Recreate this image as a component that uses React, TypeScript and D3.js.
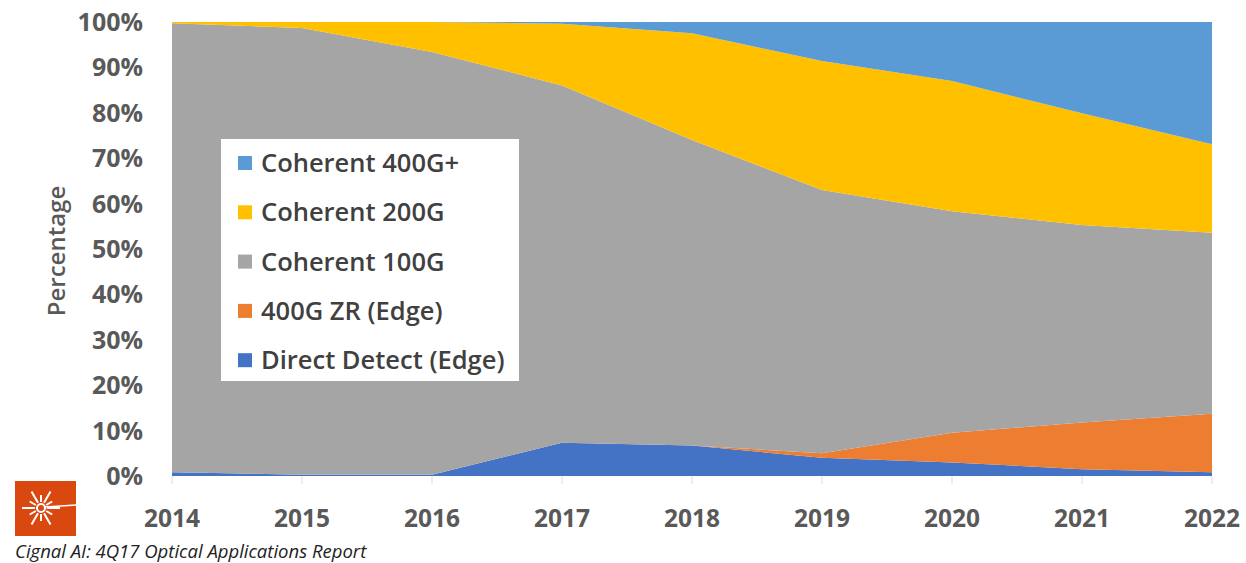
import React, { useEffect, useRef } from 'react';
import * as d3 from 'd3';

// shares in percent
const years = [2014, 2015, 2016, 2017, 2018, 2019, 2020, 2021, 2022];
const directDetect = [0.8, 0.3, 0.3, 7.3, 6.7, 4.0, 3.0, 1.5, 0.8];
const zr400 = [0, 0, 0, 0, 0, 1.0, 6.5, 10.3, 12.9];
const coherent100 = [98.9, 98.4, 93.1, 78.7, 67.3, 58.0, 48.8, 43.5, 39.9];
const coherent200 = [0.3, 1.3, 6.6, 13.6, 23.5, 28.4, 28.7, 24.6, 19.5];
const coherent400 = [0, 0, 0, 0.4, 2.5, 8.6, 13.0, 20.1, 26.9];

const seriesNames = ['Direct Detect (Edge)', '400G ZR (Edge)', 'Coherent 100G', 'Coherent 200G', 'Coherent 400G+'];
const seriesColors = ['#4472C4', '#ED7D31', '#A5A5A5', '#FFC000', '#5B9BD5'];
const yTicks = [0, 10, 20, 30, 40, 50, 60, 70, 80, 90, 100];

const W = 1246, H = 563;
const FONT = '"Open Sans", Lato, sans-serif';

export default function App() {
  const ref = useRef<SVGSVGElement>(null);

  useEffect(() => {
    const svg = d3.select(ref.current);
    svg.selectAll('*').remove();

    const rows = years.map((y, i) => ({
      year: y,
      s0: directDetect[i], s1: zr400[i], s2: coherent100[i], s3: coherent200[i], s4: coherent400[i],
    }));
    const keys = ['s0', 's1', 's2', 's3', 's4'];
    const stacked = d3.stack<any>().keys(keys)(rows);

    const x = d3.scaleLinear().domain([2014, 2022]).range([172, 1212]);
    const y = d3.scaleLinear().domain([0, 100]).range([476, 22]);

    const area = d3.area<any>()
      .x((d) => x(d.data.year))
      .y0((d) => y(d[0]))
      .y1((d) => y(d[1]));

    svg.append('g').selectAll('path')
      .data(stacked)
      .join('path')
      .attr('d', area)
      .attr('fill', (d, i) => seriesColors[i]);

    // x ticks
    const xAxis = svg.append('g');
    xAxis.selectAll('line').data(years).join('line')
      .attr('x1', (d) => x(d)).attr('x2', (d) => x(d))
      .attr('y1', 476).attr('y2', 484)
      .attr('stroke', '#d9d9d9').attr('stroke-width', 1);
    xAxis.selectAll('text').data(years).join('text')
      .attr('x', (d) => x(d)).attr('y', 527)
      .attr('text-anchor', 'middle')
      .attr('font-family', FONT).attr('font-size', 24.5).attr('font-weight', 700)
      .attr('fill', '#595959')
      .text((d) => d);

    // y tick labels
    svg.append('g').selectAll('text').data(yTicks).join('text')
      .attr('x', 143).attr('y', (d) => y(d) + 9)
      .attr('text-anchor', 'end')
      .attr('font-family', FONT).attr('font-size', 25).attr('font-weight', 700)
      .attr('fill', '#595959')
      .text((d) => d + '%');

    svg.append('text')
      .attr('transform', 'translate(65,251) rotate(-90)')
      .attr('text-anchor', 'middle')
      .attr('font-family', FONT).attr('font-size', 24).attr('font-weight', 600)
      .attr('fill', '#595959')
      .text('Percentage');

    // legend
    const lg = svg.append('g');
    lg.append('rect').attr('x', 221).attr('y', 139).attr('width', 298).attr('height', 242).attr('fill', '#fff');
    const order = [4, 3, 2, 1, 0];
    order.forEach((si, r) => {
      const cy = 163 + r * 49.3;
      lg.append('rect').attr('x', 238).attr('y', cy - 7).attr('width', 14).attr('height', 14).attr('fill', seriesColors[si]);
      lg.append('text').attr('x', 261).attr('y', cy + 9)
        .attr('font-family', FONT).attr('font-size', 25.5).attr('font-weight', 600)
        .attr('fill', '#404040')
        .text(seriesNames[si]);
    });

    // logo
    const logo = svg.append('g');
    logo.append('rect').attr('x', 15).attr('y', 481).attr('width', 61).attr('height', 55).attr('fill', '#D9480F');
    const cx = 41, cy = 508;
    const angles = d3.range(0, 360, 30);
    logo.selectAll('line.ray').data(angles).join('line')
      .attr('x1', (a) => cx + 6 * Math.cos(a * Math.PI / 180))
      .attr('y1', (a) => cy + 6 * Math.sin(a * Math.PI / 180))
      .attr('x2', (a, i) => cx + (i % 2 ? 13 : 19) * Math.cos(a * Math.PI / 180))
      .attr('y2', (a, i) => cy + (i % 2 ? 13 : 19) * Math.sin(a * Math.PI / 180))
      .attr('stroke', '#fff').attr('stroke-width', 2);
    logo.append('circle').attr('cx', cx).attr('cy', cy).attr('r', 4).attr('fill', 'none').attr('stroke', '#fff').attr('stroke-width', 2);
    logo.append('line').attr('x1', cx + 4).attr('y1', cy - 1).attr('x2', 76).attr('y2', cy - 3).attr('stroke', '#fff').attr('stroke-width', 1.5);

    svg.append('text')
      .attr('x', 15).attr('y', 558)
      .attr('font-family', FONT).attr('font-size', 18.5).attr('font-style', 'italic')
      .attr('fill', '#222')
      .text('Cignal AI: 4Q17 Optical Applications Report');
  }, []);

  return (
    <div style={{ position: 'absolute', left: 0, top: 0 }}>
      <svg ref={ref} width={W} height={H} style={{ display: 'block', background: '#fff' }} />
    </div>
  );
}
